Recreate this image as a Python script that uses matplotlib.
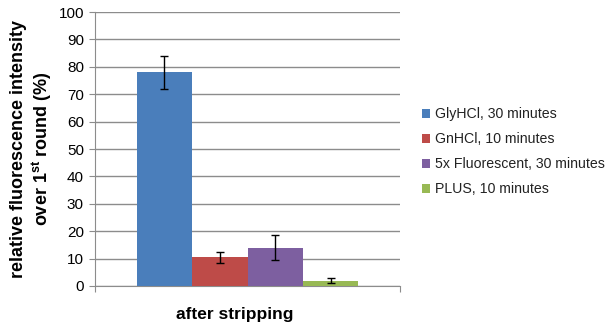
import matplotlib
matplotlib.use("Agg")
import matplotlib.pyplot as plt
import numpy as np

plt.rcParams['font.family'] = ['Liberation Sans', 'DejaVu Sans']
plt.rcParams['mathtext.fontset'] = 'custom'
plt.rcParams['mathtext.rm'] = 'Liberation Sans'
plt.rcParams['mathtext.bf'] = 'Liberation Sans:bold'

category = "after stripping"
series = ["GlyHCl, 30 minutes", "GnHCl, 10 minutes",
          "5x Fluorescent, 30 minutes", "PLUS, 10 minutes"]
values = [78, 10.5, 14, 2]
errors = [6, 2, 4.5, 1]
colors = ["#4a7ebb", "#be4b48", "#7d5fa0", "#98b954"]
yticks = list(range(0, 101, 10))

fig = plt.figure(figsize=(6.07, 3.29), dpi=100)
ax = fig.add_axes([0.1565, 0.1307, 0.5025, 0.8328])

n = len(series)
bar_w = 0.1815
offsets = (np.arange(n) - (n - 1) / 2) * bar_w
for off, v, e, c, lab in zip(offsets, values, errors, colors, series):
    ax.bar(off, v, width=bar_w, color=c, label=lab, zorder=3)
    ax.errorbar(off, v, yerr=e, fmt='none', ecolor='black', elinewidth=1,
                capsize=3, capthick=1, zorder=4)

ax.set_xlim(-0.5, 0.5)
ax.set_ylim(0, 100)
ax.set_yticks(yticks)
ax.set_yticklabels([str(t) for t in yticks], fontsize=11)
ax.yaxis.grid(True, color='#8c8c8c', linewidth=1.0, zorder=0)
ax.set_axisbelow(True)

ax.set_xticks([-0.5, 0.5])
ax.set_xticklabels(['', ''])
ax.tick_params(axis='x', length=4, color='#8c8c8c')
ax.tick_params(axis='y', length=4, color='#8c8c8c', pad=4)
ax.text(0.459, -0.105, category, transform=ax.transAxes,
        ha='center', va='center', fontsize=12.5, fontweight='bold')

for s in ['top', 'right']:
    ax.spines[s].set_visible(False)
for s in ['left', 'bottom']:
    ax.spines[s].set_color('#8c8c8c')

ax.set_ylabel("relative fluorescence intensity\n"
              r"over 1$^{\mathbf{st}}$ round (%)",
              fontsize=13, fontweight='bold', labelpad=3, linespacing=1.15)

leg = ax.legend(loc='center left', bbox_to_anchor=(1.072, 0.49), frameon=False,
                fontsize=10.2, handlelength=0.6, handleheight=0.6,
                handletextpad=0.35, labelspacing=0.78, borderaxespad=0,
                borderpad=0)
for t in leg.get_texts():
    t.set_color('#222222')

fig.savefig("out.png", dpi=100)
